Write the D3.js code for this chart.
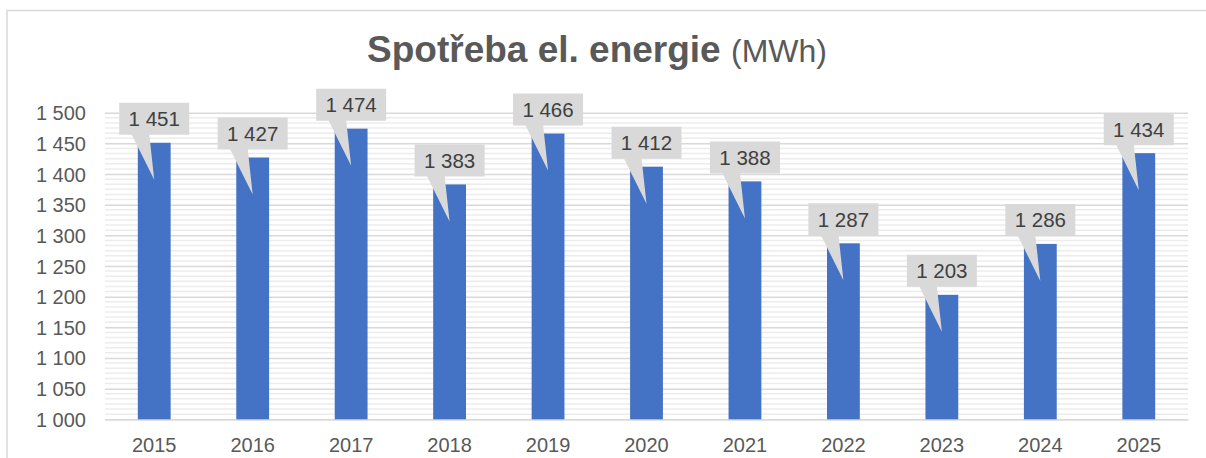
<!DOCTYPE html>
<html>
<head>
<meta charset="utf-8">
<script src="https://cdn.jsdelivr.net/npm/d3@7"></script>
<style>
  html, body { margin: 0; padding: 0; background: #fff; }
  svg { display: block; font-family: "Liberation Sans", Arial, sans-serif; }
</style>
</head>
<body>
<svg id="chart" width="1206" height="458"></svg>
<script>
// Annual electricity consumption (MWh)
const years = ["2015", "2016", "2017", "2018", "2019", "2020", "2021", "2022", "2023", "2024", "2025"];
const consumption = [1451, 1427, 1474, 1383, 1466, 1412, 1388, 1287, 1203, 1286, 1434];
const yTicks = [1000, 1050, 1100, 1150, 1200, 1250, 1300, 1350, 1400, 1450, 1500];
const titleMain = "Spotřeba el. energie";
const titleUnit = "(MWh)";

const svg = d3.select("#chart");
const W = 1206, H = 458;
const plot = { left: 105, right: 1188, top: 112.7, bottom: 419.3 };

// number format with a space as thousands separator (Czech style)
const fmt = v => d3.format(",")(v).replace(/,/g, " ");

// chart frame (only the top and left edges fall inside the page)
svg.append("rect")
  .attr("x", 7).attr("y", 10.5)
  .attr("width", W + 20).attr("height", H + 20)
  .attr("fill", "#fff").attr("stroke", "#d9d9d9").attr("stroke-width", 1.5);

const x = d3.scaleBand()
  .domain(years)
  .range([plot.left, plot.right])
  .paddingInner(2 / 3)
  .paddingOuter(1 / 3);

const y = d3.scaleLinear()
  .domain([yTicks[0], yTicks[yTicks.length - 1]])
  .range([plot.bottom, plot.top]);

// minor gridlines
const minorStep = 50 / 6;
const minor = d3.range(yTicks[0], yTicks[yTicks.length - 1], minorStep).filter(v => (v - yTicks[0]) % 50 > 0.01);
svg.append("g")
  .selectAll("line").data(minor).join("line")
  .attr("x1", plot.left).attr("x2", plot.right)
  .attr("y1", d => y(d)).attr("y2", d => y(d))
  .attr("stroke", "#ececec").attr("stroke-width", 1.5);

// major gridlines via axis
svg.append("g")
  .attr("transform", `translate(${plot.left},0)`)
  .call(d3.axisLeft(y).tickValues(yTicks).tickSize(-(plot.right - plot.left)).tickFormat(fmt))
  .call(g => g.select(".domain").remove())
  .call(g => g.selectAll(".tick line").attr("stroke", "#d9d9d9").attr("stroke-width", 1.5))
  .call(g => g.selectAll(".tick text")
    .attr("x", -19).attr("dy", "0.35em")
    .attr("fill", "#595959").attr("font-size", 20)
    .attr("font-family", "Liberation Sans, Arial, sans-serif"));

// category axis
svg.append("g")
  .attr("transform", `translate(0,${plot.bottom})`)
  .call(d3.axisBottom(x).tickSize(0).tickPadding(0))
  .call(g => g.select(".domain").attr("stroke", "#d9d9d9").attr("stroke-width", 1.5))
  .call(g => g.selectAll(".tick text")
    .attr("y", 32.5).attr("dy", 0)
    .attr("fill", "#595959").attr("font-size", 20)
    .attr("font-family", "Liberation Sans, Arial, sans-serif"));

// bars
svg.append("g")
  .selectAll("rect").data(years).join("rect")
  .attr("x", d => x(d))
  .attr("width", x.bandwidth())
  .attr("y", (d, i) => y(consumption[i]))
  .attr("height", (d, i) => y(yTicks[0]) - y(consumption[i]))
  .attr("fill", "#4472c4");

// callout data labels
const boxW = 70, boxH = 32, gap = 8, tipDrop = 37;
const labels = svg.append("g").selectAll("g").data(years).join("g");
labels.each(function (d, i) {
  const g = d3.select(this);
  const cx = x(d) + x.bandwidth() / 2;
  const top = y(consumption[i]);
  const bx = cx - boxW / 2, by = top - gap - boxH;
  const path = d3.path();
  path.moveTo(bx, by);
  path.lineTo(bx + boxW, by);
  path.lineTo(bx + boxW, by + boxH);
  path.lineTo(bx + boxW * 0.43, by + boxH);
  path.lineTo(cx, top + tipDrop);
  path.lineTo(bx + boxW * 0.18, by + boxH);
  path.lineTo(bx, by + boxH);
  path.closePath();
  g.append("path").attr("d", path.toString()).attr("fill", "#d9d9d9");
  g.append("text")
    .attr("x", cx).attr("y", by + boxH / 2)
    .attr("dy", "0.36em")
    .attr("text-anchor", "middle")
    .attr("font-size", 20.5)
    .attr("fill", "#404040")
    .text(fmt(consumption[i]));
});

// title
const title = svg.append("text")
  .attr("x", 597).attr("y", 62)
  .attr("text-anchor", "middle")
  .attr("fill", "#595959");
title.append("tspan").attr("font-size", 37).attr("font-weight", "bold").text(titleMain + " ");
title.append("tspan").attr("font-size", 32).text(titleUnit);
</script>
</body>
</html>
